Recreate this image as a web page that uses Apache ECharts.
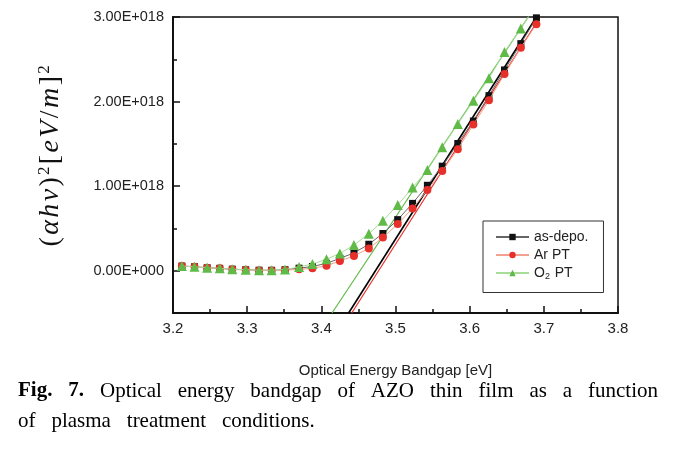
<!DOCTYPE html>
<html><head><meta charset="utf-8">
<script src="https://cdn.jsdelivr.net/npm/echarts@6/dist/echarts.min.js"></script>
<style>html,body{margin:0;padding:0;background:#fff}#c{width:677px;height:451px}</style>
</head><body><div id="c"></div>
<script>
// Photon energy (eV)
const energy = [3.212,3.229,3.246,3.263,3.280,3.298,3.316,3.333,3.351,3.370,3.388,3.407,3.425,3.444,3.464,3.483,3.503,3.523,3.543,3.563,3.584,3.605,3.626,3.647,3.669,3.690];
// (alpha h v)^2 in units of 1E+018
const asDepo = [0.055,0.047,0.035,0.028,0.018,0.012,0.006,0.005,0.012,0.030,0.050,0.087,0.146,0.210,0.313,0.440,0.604,0.796,1.010,1.236,1.504,1.770,2.070,2.374,2.685,2.990];
const arPT   = [0.055,0.047,0.035,0.028,0.016,0.010,0.004,0.003,0.008,0.016,0.028,0.060,0.114,0.175,0.264,0.392,0.551,0.737,0.953,1.180,1.437,1.728,2.015,2.325,2.637,2.915];
const o2PT   = [0.055,0.047,0.035,0.028,0.018,0.012,0.006,0.006,0.014,0.045,0.079,0.136,0.205,0.303,0.437,0.590,0.778,0.983,1.190,1.460,1.736,2.009,2.275,2.586,2.865,3.150];
// linear extrapolation (Tauc) lines: [energy, value]
const fitAsDepo = [[3.4368,-0.5],[3.690,3.0]];
const fitArPT   = [[3.4410,-0.5],[3.695,3.0]];
const fitO2PT   = [[3.4144,-0.5],[3.679,3.0]];
const seriesNames = ['as-depo.','Ar PT','O2 PT'];
const yLabelValues = [0,1,2,3];
const caption1 = ['Fig.','7.','Optical','energy','bandgap','of','AZO','thin','film','as','a','function'];
const caption2 = ['of','plasma','treatment','conditions.'];

const zip = (xs, ys) => xs.map((x,i)=>[x, ys[i]]);
const chart = echarts.init(document.getElementById('c'), null, {renderer:'canvas'});

// caption layout (justified first line)
const cv = document.createElement('canvas').getContext('2d');
const capFont = 21, capFam = '"Liberation Serif","Times New Roman",serif';
function w(word, bold){ cv.font = (bold?'bold ':'') + capFont + 'px ' + capFam; return cv.measureText(word).width; }
const widths1 = caption1.map((t,i)=>w(t, i<2));
const L = 18, R = 658;
const gap = (R - L - widths1.reduce((a,b)=>a+b,0)) / (caption1.length-1);
const capEls = [];
let cx = L;
caption1.forEach((t,i)=>{
  capEls.push({type:'text', x:cx, y:391, style:{text:t, fill:'#000', font:(i<2?'bold ':'')+capFont+'px '+capFam, verticalAlign:'middle', align:'left'}});
  cx += widths1[i] + gap;
});
cx = L;
caption2.forEach((t)=>{
  capEls.push({type:'text', x:cx, y:421, style:{text:t, fill:'#000', font:capFont+'px '+capFam, verticalAlign:'middle', align:'left'}});
  cx += w(t,false) + gap;
});

const fmtY = v => v === 0 ? '0.00E+000' : v.toFixed(2) + 'E+018';
const sansFam = '"Liberation Sans", Arial, sans-serif';
const serifFam = '"Liberation Serif",serif';

chart.setOption({
  animation:false,
  backgroundColor:'#fff',
  grid:{left:173, right:59, top:17, bottom:138, show:true, borderColor:'#111', borderWidth:1.5, backgroundColor:'transparent'},
  xAxis:{
    type:'value', min:3.2, max:3.8, interval:0.1,
    name:'Optical Energy Bandgap [eV]', nameLocation:'middle', nameGap:50,
    nameTextStyle:{fontFamily:sansFam, fontSize:15, color:'#222'},
    axisLine:{onZero:false, lineStyle:{color:'#111', width:2}},
    axisTick:{inside:true, length:7, lineStyle:{color:'#111', width:1.5}},
    minorTick:{show:true, splitNumber:2, length:4, lineStyle:{color:'#111', width:1.5}},
    axisLabel:{formatter:v=>v.toFixed(1), fontFamily:sansFam, fontSize:15, color:'#222', margin:8},
    splitLine:{show:false}
  },
  yAxis:[{
    type:'value', min:-0.5, max:3, interval:0.5,
    axisLine:{show:true, onZero:false, lineStyle:{color:'#111', width:2}},
    axisTick:{inside:true, length:7, customValues:yLabelValues, lineStyle:{color:'#111', width:1.5}},
    axisLabel:{customValues:yLabelValues, formatter:fmtY, fontFamily:sansFam, fontSize:14.5, color:'#222', margin:9},
    splitLine:{show:false}
  },{
    type:'value', min:-0.5, max:3, interval:0.5, position:'left',
    axisLine:{show:false, onZero:false},
    axisTick:{show:true, inside:true, length:4, lineStyle:{color:'#111', width:1.5}},
    axisLabel:{show:false}, splitLine:{show:false}
  }],
  legend:{
    data:seriesNames, orient:'vertical', left:483, top:221,
    padding:[9,15,11,12], itemGap:4, itemWidth:33, itemHeight:8,
    borderColor:'#333', borderWidth:1, backgroundColor:'#fff',
    textStyle:{fontFamily:sansFam, fontSize:14, color:'#222', rich:{sub:{fontFamily:sansFam, fontSize:9, color:'#222', padding:[8,1,0,0]}}},
    formatter:n => n==='O2 PT' ? 'O{sub|2} PT' : n
  },
  graphic:[
    {type:'text', x:51, y:156, rotation:Math.PI/2, style:{
      text:'{p|(}{i|α}{i|h}{i|v}{p|)}{s|2}{p|[}{i|e}{i|V}{p|/}{i|m}{p|]}{s|2}',
      align:'center', verticalAlign:'middle',
      rich:{
        p:{fontFamily:serifFam, fontSize:28, fill:'#111', lineHeight:30, padding:[0,1.2,0,1.2]},
        i:{fontFamily:serifFam, fontStyle:'italic', fontSize:28, fill:'#111', lineHeight:30, padding:[0,1.2,0,1.2]},
        s:{fontFamily:serifFam, fontSize:17, fill:'#111', lineHeight:30, padding:[0,1,12,1]}
      }
    }},
    ...capEls
  ],
  series:[
    {name:'as-depo.', type:'line', data:zip(energy, asDepo), symbol:'rect', symbolSize:7,
      itemStyle:{color:'#111'}, lineStyle:{color:'#666', width:1}, z:3},
    {name:'Ar PT', type:'line', data:zip(energy, arPT), symbol:'circle', symbolSize:8,
      itemStyle:{color:'#e8302a'}, lineStyle:{color:'#f2a090', width:1}, z:4},
    {name:'O2 PT', type:'line', data:zip(energy, o2PT), symbol:'triangle', symbolSize:10,
      itemStyle:{color:'#5fba48'}, lineStyle:{color:'#a8dc98', width:1}, z:5},
    {name:'fit as-depo.', type:'line', data:fitAsDepo, symbol:'none', lineStyle:{color:'#000', width:1.6}, silent:true, z:2},
    {name:'fit Ar PT', type:'line', data:fitArPT, symbol:'none', lineStyle:{color:'#e8302a', width:1.2}, silent:true, z:2},
    {name:'fit O2 PT', type:'line', data:fitO2PT, symbol:'none', lineStyle:{color:'#5fba48', width:1.2}, silent:true, z:2}
  ]
});
</script>
</body></html>
